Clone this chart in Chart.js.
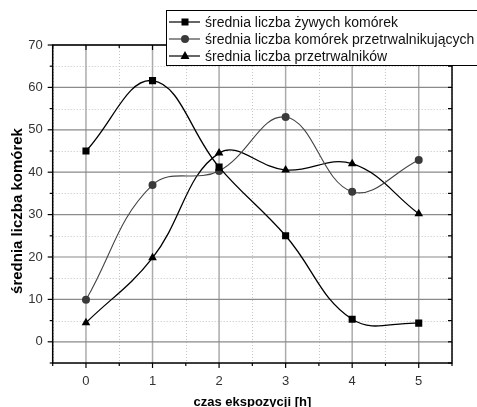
<!DOCTYPE html>
<html>
<head>
<meta charset="utf-8">
<script src="https://cdn.jsdelivr.net/npm/chart.js@4/dist/chart.umd.min.js"></script>
<style>
  html, body { margin: 0; padding: 0; background: #fff; }
  canvas { display: block; }
</style>
</head>
<body>
<canvas id="chart" width="477" height="407"></canvas>
<script>
// values
const hours = [0, 1, 2, 3, 4, 5];
const zyweKomorki = [45, 61.6, 41.2, 25, 5.3, 4.4];
const komorkiPrzetrwalnikujace = [9.9, 37, 40.3, 53, 35.4, 42.9];
const przetrwalniki = [4.5, 19.8, 44.5, 40.5, 42, 30.2];

const seriesLabels = [
  'średnia liczba żywych komórek',
  'średnia liczba komórek przetrwalnikujących',
  'średnia liczba przetrwalników'
];
const xTitle = 'czas ekspozycji [h]';
const yTitle = 'średnia liczba komórek';

const FONT = "Arial, 'Liberation Sans', sans-serif";

function toPoints(values) {
  return hours.map((h, i) => ({ x: h, y: values[i] }));
}

function line(ctx, x1, y1, x2, y2) {
  ctx.beginPath();
  ctx.moveTo(x1, y1);
  ctx.lineTo(x2, y2);
  ctx.stroke();
}

// marker for the legend, same shapes as the chart points
function drawMarker(ctx, style, x, y, color) {
  ctx.fillStyle = color;
  ctx.beginPath();
  if (style === 'rect') {
    ctx.rect(x - 3.5, y - 3.5, 7, 7);
  } else if (style === 'circle') {
    ctx.arc(x, y, 4, 0, Math.PI * 2);
  } else {
    ctx.moveTo(x, y - 5);
    ctx.lineTo(x + 4.5, y + 3);
    ctx.lineTo(x - 4.5, y + 3);
    ctx.closePath();
  }
  ctx.fill();
}

// grid lines: solid at major ticks, dotted at minor ones
const gridPlugin = {
  id: 'originGrid',
  beforeDatasetsDraw(chart) {
    const { ctx, chartArea: a, scales: { x, y } } = chart;
    ctx.save();
    ctx.lineWidth = 1;
    ctx.setLineDash([1, 2]);
    ctx.strokeStyle = '#c4c4c4';
    x.ticks.forEach(t => {
      if (!Number.isInteger(t.value)) {
        const px = Math.round(x.getPixelForValue(t.value)) + 0.5;
        line(ctx, px, a.top, px, a.bottom);
      }
    });
    y.ticks.forEach(t => {
      if (t.value % 10 !== 0) {
        const py = Math.round(y.getPixelForValue(t.value)) + 0.5;
        line(ctx, a.left, py, a.right, py);
      }
    });
    ctx.setLineDash([]);
    ctx.strokeStyle = '#ababab';
    ctx.lineWidth = 1.5;
    x.ticks.forEach(t => {
      if (Number.isInteger(t.value)) {
        const px = x.getPixelForValue(t.value);
        line(ctx, px, a.top, px, a.bottom);
      }
    });
    ctx.strokeStyle = '#8a8a8a';
    ctx.lineWidth = 1.2;
    y.ticks.forEach(t => {
      if (t.value % 10 === 0) {
        const py = y.getPixelForValue(t.value);
        line(ctx, a.left, py, a.right, py);
      }
    });
    ctx.restore();
  }
};

// frame, tick marks, y title and legend box
const framePlugin = {
  id: 'originFrame',
  afterDraw(chart) {
    const { ctx, chartArea: a, scales: { x, y } } = chart;
    ctx.save();
    ctx.strokeStyle = '#000';
    ctx.lineWidth = 1.2;
    x.ticks.forEach(t => {
      const px = x.getPixelForValue(t.value);
      const len = Number.isInteger(t.value) ? 5 : 3;
      line(ctx, px, a.bottom, px, a.bottom + len);
      line(ctx, px, a.top, px, a.top + len);
    });
    y.ticks.forEach(t => {
      const py = y.getPixelForValue(t.value);
      const len = t.value % 10 === 0 ? 5 : 3;
      line(ctx, a.left - len, py, a.left, py);
      line(ctx, a.right - 4, py, a.right, py);
    });
    ctx.lineWidth = 1.5;
    ctx.strokeRect(a.left, a.top, a.right - a.left, a.bottom - a.top);

    // y axis title
    ctx.save();
    ctx.translate(18, 211);
    ctx.rotate(-Math.PI / 2);
    ctx.fillStyle = '#000';
    ctx.font = 'bold 15px ' + FONT;
    ctx.textAlign = 'center';
    ctx.textBaseline = 'middle';
    ctx.fillText(yTitle, 0, 0);
    ctx.restore();

    // legend
    ctx.fillStyle = '#fff';
    ctx.fillRect(166, 10.5, 320, 55);
    ctx.lineWidth = 1;
    ctx.strokeStyle = '#000';
    ctx.strokeRect(166.5, 10.5, 320, 55);
    const rows = [22, 39, 56];
    chart.data.datasets.forEach((ds, i) => {
      const ry = rows[i];
      ctx.strokeStyle = ds.borderColor;
      ctx.lineWidth = 1.2;
      line(ctx, 169, ry, 200, ry);
      drawMarker(ctx, ds.pointStyle, 185, ry, ds.pointBackgroundColor);
      ctx.fillStyle = '#111';
      ctx.font = '14px ' + FONT;
      ctx.textAlign = 'left';
      ctx.textBaseline = 'middle';
      ctx.fillText(ds.label, 205, ry + 1);
    });
    ctx.restore();
  }
};

new Chart(document.getElementById('chart'), {
  type: 'line',
  data: {
    datasets: [
      {
        label: seriesLabels[0],
        data: toPoints(zyweKomorki),
        borderColor: '#000',
        borderWidth: 1.3,
        pointStyle: 'rect',
        pointRadius: 5,
        pointBackgroundColor: '#000',
        pointBorderWidth: 0,
        tension: 0.4
      },
      {
        label: seriesLabels[1],
        data: toPoints(komorkiPrzetrwalnikujace),
        borderColor: '#444',
        borderWidth: 1.1,
        pointStyle: 'circle',
        pointRadius: 4,
        pointBackgroundColor: '#3a3a3a',
        pointBorderWidth: 0,
        tension: 0.4
      },
      {
        label: seriesLabels[2],
        data: toPoints(przetrwalniki),
        borderColor: '#000',
        borderWidth: 1.3,
        pointStyle: 'triangle',
        pointRadius: 5,
        pointBackgroundColor: '#000',
        pointBorderWidth: 0,
        tension: 0.4
      }
    ]
  },
  options: {
    responsive: false,
    animation: false,
    devicePixelRatio: 1,
    layout: { padding: { top: 45, right: 25, left: 0, bottom: 0 } },
    plugins: {
      legend: { display: false },
      tooltip: { enabled: false }
    },
    scales: {
      x: {
        type: 'linear',
        min: -0.5,
        max: 5.5,
        grid: { display: false, drawTicks: false },
        border: { display: false },
        ticks: {
          stepSize: 0.5,
          autoSkip: false,
          maxRotation: 0,
          padding: 11,
          color: '#333',
          font: { family: FONT, size: 13 },
          callback: v => Number.isInteger(v) ? String(v) : ''
        },
        title: {
          display: true,
          text: xTitle,
          color: '#000',
          font: { family: FONT, size: 13, weight: 'bold' },
          padding: { top: -3, bottom: -3 }
        },
        afterFit: scale => { scale.height = 44; }
      },
      y: {
        min: -5,
        max: 70,
        grid: { display: false, drawTicks: false },
        border: { display: false },
        ticks: {
          stepSize: 5,
          autoSkip: false,
          padding: 10,
          color: '#333',
          font: { family: FONT, size: 13 },
          callback: v => v % 10 === 0 ? String(v) : ''
        },
        afterFit: scale => { scale.width = 52.7; }
      }
    }
  },
  plugins: [gridPlugin, framePlugin]
});
</script>
</body>
</html>
